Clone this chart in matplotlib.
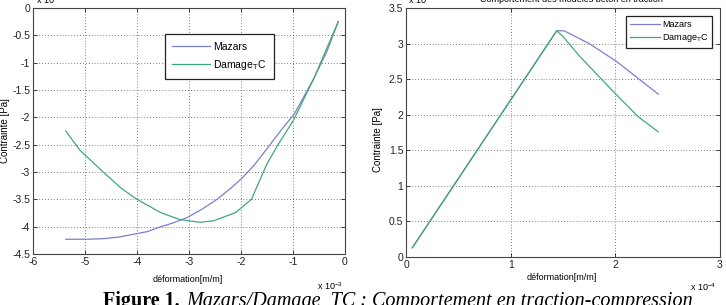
import numpy as np
import matplotlib
matplotlib.use("Agg")
from matplotlib import pyplot as plt

# compression (x in 1e-3 m/m, y in 1e7 Pa)
comp_mazars_x = [-5.37, -4.95, -4.65, -4.35, -4.07, -3.8, -3.54, -3.3, -3.03, -2.75, -2.46, -2.2, -2.0, -1.75, -1.49, -1.2, -0.97, -0.6, -0.35, -0.13]
comp_mazars_y = [-4.23, -4.23, -4.22, -4.19, -4.14, -4.09, -4.0, -3.93, -3.83, -3.68, -3.5, -3.3, -3.13, -2.88, -2.56, -2.2, -1.93, -1.29, -0.8, -0.25]
comp_damage_x = [-5.37, -5.1, -4.65, -4.3, -4.0, -3.55, -3.18, -2.78, -2.52, -2.1, -1.8, -1.5, -1.3, -0.99, -0.6, -0.13]
comp_damage_y = [-2.25, -2.6, -3.0, -3.3, -3.5, -3.74, -3.87, -3.92, -3.89, -3.74, -3.5, -2.85, -2.52, -2.05, -1.29, -0.25]

# traction (x in 1e-4 m/m, y in 1e6 Pa)
trac_mazars_x = [0.06, 1.44, 1.51, 1.75, 2.01, 2.41]
trac_mazars_y = [0.13, 3.18, 3.18, 3.0, 2.75, 2.29]
trac_damage_x = [0.06, 1.44, 1.50, 1.66, 2.01, 2.22, 2.41]
trac_damage_y = [0.13, 3.18, 3.10, 2.82, 2.28, 1.97, 1.76]

labels = ["Mazars", "Damage$_{\\mathregular{T}}$C"]
blue = "#7b80c8"
green = "#3fa878"

plt.rcParams["font.family"] = ["Liberation Sans", "DejaVu Sans"]
plt.rcParams["mathtext.default"] = "regular"
plt.rcParams["axes.unicode_minus"] = False

W, H = 726, 305
fig = plt.figure(figsize=(W / 100, H / 100), dpi=100)


def px_axes(x0, y0, x1, y1):
    return fig.add_axes([x0 / W, 1 - y1 / H, (x1 - x0) / W, (y1 - y0) / H])


def matlab_style(ax):
    ax.tick_params(direction="in", top=True, right=True, length=3, width=0.6,
                   labelsize=7.5, pad=2, colors="#222222")
    for s in ax.spines.values():
        s.set_linewidth(0.8)
        s.set_color("#444444")
    ax.grid(True, linestyle=(0, (1, 2.5)), color="#555555", linewidth=0.6)


narrow = ["Liberation Sans Narrow", "Liberation Sans"]

# left: compression
ax1 = px_axes(33, 8, 345, 254)
ax1.plot(comp_mazars_x, comp_mazars_y, color=blue, lw=0.9, label=labels[0])
ax1.plot(comp_damage_x, comp_damage_y, color=green, lw=0.9, label=labels[1])
ax1.set_xlim(-6, 0)
ax1.set_ylim(-4.5, 0)
ax1.set_xticks(np.arange(-6, 1, 1))
ax1.set_yticks(np.arange(-4.5, 0.01, 0.5))
ax1.set_yticklabels(["-4.5", "-4", "-3.5", "-3", "-2.5", "-2", "-1.5", "-1", "-0.5", "0"])
matlab_style(ax1)
ax1.legend(loc="upper left", bbox_to_anchor=(0.405, 0.915), fontsize=7.5,
           fancybox=False, edgecolor="#222222", framealpha=1, handlelength=3.6,
           borderpad=0.75, labelspacing=0.55, handletextpad=0.3)
ax1.get_legend().get_frame().set_linewidth(0.9)
fig.text(188 / W, 1 - 279 / H, "déformation[m/m]", ha="center", va="center",
         fontsize=6.5, family=narrow)
fig.text(330 / W, 1 - 286 / H, "x 10$^{-3}$", ha="center", va="center", fontsize=6.5, family=narrow)
fig.text(5 / W, 1 - 131 / H, "Contrainte [Pa]", rotation=90, ha="center", va="center",
         fontsize=7)
fig.text(36 / W, 1 - 0 / H, "x 10$^{7}$", ha="left", va="center", fontsize=6.5, family=narrow)

# right: traction
ax2 = px_axes(406, 8, 720, 257)
ax2.plot(trac_mazars_x, trac_mazars_y, color=blue, lw=0.9, label=labels[0])
ax2.plot(trac_damage_x, trac_damage_y, color=green, lw=0.9, label=labels[1])
ax2.set_xlim(0, 3)
ax2.set_ylim(0, 3.5)
ax2.set_xticks([0, 1, 2, 3])
ax2.set_yticks(np.arange(0, 3.51, 0.5))
ax2.set_yticklabels(["0", "0.5", "1", "1.5", "2", "2.5", "3", "3.5"])
matlab_style(ax2)
ax2.legend(loc="upper right", bbox_to_anchor=(0.99, 0.985), fontsize=6.5,
           fancybox=False, edgecolor="#222222", framealpha=1, handlelength=3.3,
           borderpad=0.4, labelspacing=0.4, handletextpad=0.3, prop={"family": narrow, "size": 6.5})
ax2.get_legend().get_frame().set_linewidth(0.9)
fig.text(562 / W, 1 - 277 / H, "déformation[m/m]", ha="center", va="center",
         fontsize=6.5, family=narrow)
fig.text(703 / W, 1 - 287 / H, "x 10$^{-4}$", ha="center", va="center", fontsize=6.5, family=narrow)
fig.text(378 / W, 1 - 140 / H, "Contrainte [Pa]", rotation=90, ha="center", va="center",
         fontsize=7, family=narrow)
fig.text(408 / W, 1 - 0 / H, "x 10$^{6}$", ha="left", va="center", fontsize=6.5, family=narrow)
fig.text(571 / W, 1 - 0 / H, "Comportement des modèles béton en traction", ha="center",
         va="center", fontsize=6.5, family=narrow)

# caption
fig.text(103 / W, -1 / H, "Figure 1.", ha="left", va="baseline", fontsize=14.5,
         family="Liberation Serif", weight="bold")
fig.text(186 / W, -1 / H, "Mazars/Damage_TC : Comportement en traction-compression",
         ha="left", va="baseline", fontsize=14.5, family="Liberation Serif", style="italic")

fig.savefig("out.png", dpi=100)
